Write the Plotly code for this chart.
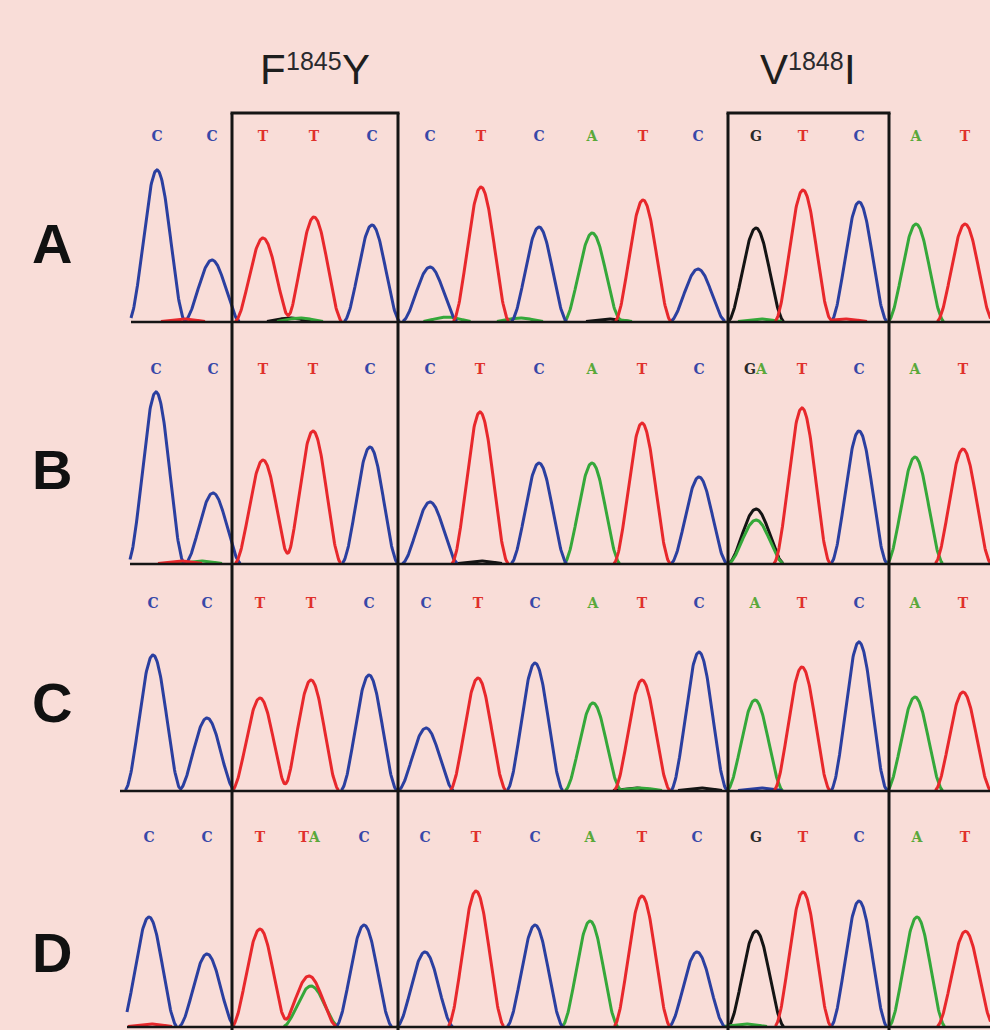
import numpy as np
import plotly.graph_objects as go

# ---------------- data ----------------
row_labels = ["A", "B", "C", "D"]

calls_A = ["C", "C", "T", "T", "C", "C", "T", "C", "A", "T", "C", "G", "T", "C", "A", "T"]
pos_A = [157, 212, 263, 314, 372, 430, 481, 539, 592, 643, 698, 756, 803, 859, 916, 965]
hgt_A = [152, 62, 84, 105, 97, 55, 135, 95, 88, 122, 53, 94, 132, 120, 98, 98]

calls_B = ["C", "C", "T", "T", "C", "C", "T", "C", "A", "T", "C", "GA", "T", "C", "A", "T"]
pos_B = [156, 213, 263, 313, 370, 430, 480, 539, 592, 642, 699, 756, 802, 859, 915, 963]
hgt_B = [172, 71, 104, 133, 117, 62, 152, 101, 101, 141, 87, 55, 156, 133, 107, 115]

calls_C = ["C", "C", "T", "T", "C", "C", "T", "C", "A", "T", "C", "A", "T", "C", "A", "T"]
pos_C = [153, 207, 260, 311, 369, 426, 478, 535, 593, 642, 699, 755, 802, 859, 915, 963]
hgt_C = [136, 73, 93, 111, 116, 63, 113, 128, 88, 111, 139, 91, 124, 149, 94, 99]

calls_D = ["C", "C", "T", "TA", "C", "C", "T", "C", "A", "T", "C", "G", "T", "C", "A", "T"]
pos_D = [149, 207, 260, 309, 364, 425, 476, 535, 590, 642, 697, 756, 803, 859, 917, 965]
hgt_D = [110, 73, 98, 51, 102, 75, 136, 102, 106, 131, 75, 96, 135, 126, 110, 92]

# secondary (heterozygous) peaks: base, position, height
sec_B = [("A", 756, 44)]
sec_D = [("A", 311, 41)]

# small baseline noise peaks: base, position, height
noise_A = [("A", 300, 4), ("A", 447, 5), ("A", 520, 4), ("A", 610, 3), ("A", 760, 3),
           ("T", 183, 3), ("G", 290, 4), ("G", 608, 3), ("T", 845, 3)]
noise_B = [("A", 200, 3), ("T", 180, 3), ("G", 480, 3)]
noise_C = [("G", 635, 3), ("C", 760, 3), ("A", 640, 3), ("G", 700, 3)]
noise_D = [("T", 975, 5), ("A", 745, 3), ("T", 150, 3)]

# mutation labels: wild-type residue, codon number, mutant residue
mutations = [("F", "1845", "Y"), ("V", "1848", "I")]

calls = [calls_A, calls_B, calls_C, calls_D]
positions = [pos_A, pos_B, pos_C, pos_D]
heights = [hgt_A, hgt_B, hgt_C, hgt_D]
secondaries = [[], sec_B, [], sec_D]
noises = [noise_A, noise_B, noise_C, noise_D]

# ---------------- style / layout ----------------
W, H = 990, 1030
BG = "#f9ddd8"
base_colors = {"A": "#35a83a", "C": "#2b3fa0", "G": "#141414", "T": "#e8282c"}
letter_colors = {"A": "#5aa83a", "C": "#3848a8", "G": "#2a2a2a", "T": "#e0302c"}
baseline_px = [322, 564, 791, 1027]
baseline_start = [131, 130, 120, 127]
letter_level = [185, 194, 187, 189]
label_px = [243, 469, 702, 952]
boxes = [(232, 398), (728, 889)]
title_digit_center = [314, 816]
HALF_W = 29.0

fig = go.Figure()
xs_grid = np.arange(0, W + 1, 0.5)


def peak_shape(x, p, h):
    d = np.abs(x - p)
    return np.where(d < HALF_W, h * np.cos(np.pi * d / (2 * HALF_W)) ** 2, 0.0)


for r in range(4):
    yname = "y" if r == 0 else f"y{r + 1}"
    peaks = {b: [] for b in "ACGT"}
    for c, p, h in zip(calls[r], positions[r], heights[r]):
        peaks[c[0]].append((p, h))
    for b, p, h in secondaries[r]:
        peaks[b].append((p, h))
    for b, p, h in noises[r]:
        peaks[b].append((p, h))
    x = xs_grid[xs_grid >= baseline_start[r]]
    for b in ["G", "A", "C", "T"]:
        if not peaks[b]:
            continue
        y = np.zeros_like(x)
        for p, h in peaks[b]:
            y += peak_shape(x, p, h)
        yy = [float(v) if v > 0.4 else None for v in y]
        fig.add_trace(go.Scatter(x=x, y=yy, mode="lines", yaxis=yname,
                                 line=dict(color=base_colors[b], width=3),
                                 connectgaps=False, hoverinfo="skip", showlegend=False))
    # base-call letters, one text trace per base colour
    for b in "ACGT":
        xs, ts, tp = [], [], []
        for c, p in zip(calls[r], positions[r]):
            for k, ch in enumerate(c):
                if ch != b:
                    continue
                xs.append(p)
                ts.append(ch)
                if len(c) == 1:
                    tp.append("middle center")
                else:
                    tp.append("middle left" if k == 0 else "middle right")
        if not xs:
            continue
        fig.add_trace(go.Scatter(x=xs, y=[letter_level[r]] * len(xs), mode="text",
                                 text=ts, textposition=tp, yaxis=yname, cliponaxis=False,
                                 textfont=dict(family="DejaVu Serif", size=14, weight="bold",
                                               color=letter_colors[b]),
                                 hoverinfo="skip", showlegend=False))

layout_axes = {}
for r in range(4):
    key = "yaxis" if r == 0 else f"yaxis{r + 1}"
    yb = baseline_px[r]
    v0 = -min(4, H - yb)
    v1 = 212
    lo = (H - (yb - v0)) / H
    hi = (H - (yb - v1)) / H
    layout_axes[key] = dict(range=[v0, v1], domain=[max(lo, 0), min(hi, 1)], anchor="x",
                            visible=False, fixedrange=True)

shapes = []
for r in range(4):
    yref = "y" if r == 0 else f"y{r + 1}"
    shapes.append(dict(type="line", xref="x", yref=yref, x0=baseline_start[r], x1=W,
                       y0=0, y1=0, line=dict(color="#151515", width=2.5), layer="above"))
box_top = (H - 113) / H
for x0, x1 in boxes:
    for xv in (x0, x1):
        shapes.append(dict(type="line", xref="x", yref="paper", x0=xv, x1=xv, y0=0, y1=box_top,
                           line=dict(color="#151515", width=3), layer="above"))
    shapes.append(dict(type="line", xref="x", yref="paper", x0=x0 - 1.5, x1=x1 + 1.5,
                       y0=box_top, y1=box_top, line=dict(color="#151515", width=3), layer="above"))

annotations = []
for lab, py in zip(row_labels, label_px):
    annotations.append(dict(text=lab, x=52, y=(H - py) / H, xref="x", yref="paper",
                            showarrow=False, xanchor="center", yanchor="middle",
                            font=dict(family="Liberation Sans", size=56, color="#111111",
                                      weight="bold")))
for (wt, num, mt), cx in zip(mutations, title_digit_center):
    big = dict(family="Liberation Sans", size=42, color="#1e1e1e")
    small = dict(family="Liberation Sans", size=25, color="#2a2a2e")
    annotations.append(dict(text=wt, x=cx - 27, y=(H - 69) / H, xref="x", yref="paper",
                            showarrow=False, xanchor="right", yanchor="middle", font=big,
                            borderpad=0))
    annotations.append(dict(text=num, x=cx, y=(H - 61) / H, xref="x", yref="paper",
                            showarrow=False, xanchor="center", yanchor="middle", font=small,
                            borderpad=0))
    annotations.append(dict(text=mt, x=cx + 27, y=(H - 69) / H, xref="x", yref="paper",
                            showarrow=False, xanchor="left", yanchor="middle", font=big,
                            borderpad=0))

fig.update_layout(
    width=W, height=H, margin=dict(l=0, r=0, t=0, b=0),
    paper_bgcolor=BG, plot_bgcolor=BG,
    xaxis=dict(range=[0, W], domain=[0, 1], visible=False, fixedrange=True),
    shapes=shapes, annotations=annotations, showlegend=False,
    **layout_axes,
)

fig.write_html("out.html")
